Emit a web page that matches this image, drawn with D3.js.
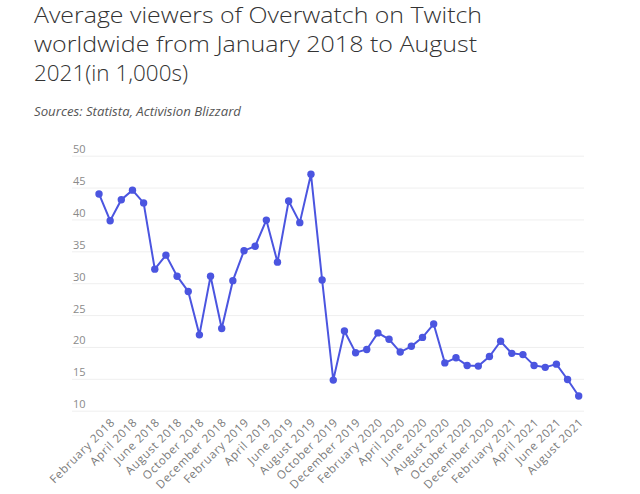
<!DOCTYPE html>
<html>
<head>
<meta charset="utf-8">
<script src="https://cdn.jsdelivr.net/npm/d3@7"></script>
<style>
  html, body { margin: 0; padding: 0; background: #fff; }
  svg { display: block; }
</style>
</head>
<body>
<svg id="chart" width="640" height="494"></svg>
<script>
const titleLines = [
  "Average viewers of Overwatch on Twitch",
  "worldwide from January 2018 to August",
  "2021(in 1,000s)"
];
const sourceText = "Sources: Statista, Activision Blizzard";

const months = [
  "January 2018","February 2018","March 2018","April 2018","May 2018","June 2018",
  "July 2018","August 2018","September 2018","October 2018","November 2018","December 2018",
  "January 2019","February 2019","March 2019","April 2019","May 2019","June 2019",
  "July 2019","August 2019","September 2019","October 2019","November 2019","December 2019",
  "January 2020","February 2020","March 2020","April 2020","May 2020","June 2020",
  "July 2020","August 2020","September 2020","October 2020","November 2020","December 2020",
  "January 2021","February 2021","March 2021","April 2021","May 2021","June 2021",
  "July 2021","August 2021"
];
const viewers = [
  44.0, 39.8, 43.1, 44.6, 42.6, 32.2, 34.4, 31.1, 28.7, 21.9, 31.1, 22.9,
  30.4, 35.1, 35.8, 39.9, 33.3, 42.9, 39.5, 47.1, 30.5, 14.8, 22.5, 19.1,
  19.6, 22.2, 21.2, 19.2, 20.1, 21.5, 23.6, 17.5, 18.3, 17.1, 17.0, 18.5,
  20.9, 19.0, 18.8, 17.1, 16.8, 17.3, 14.9, 12.3
];
const tickLabels = [
  "February 2018","April 2018","June 2018","August 2018","October 2018","December 2018",
  "February 2019","April 2019","June 2019","August 2019","October 2019","December 2019",
  "February 2020","April 2020","June 2020","August 2020","October 2020","December 2020",
  "February 2021","April 2021","June 2021","August 2021"
];
const yTicks = [10, 15, 20, 25, 30, 35, 40, 45, 50];

const svg = d3.select("#chart");
const font = "'Open Sans', 'Noto Sans', sans-serif";

// Title
const titleWidths = [448, 443, 154];
svg.append("g").selectAll("text").data(titleLines).join("text")
  .attr("x", 34)
  .attr("y", (d, i) => 22.5 + i * 29.3)
  .attr("textLength", (d, i) => titleWidths[i])
  .attr("lengthAdjust", "spacingAndGlyphs")
  .style("font-family", font)
  .style("font-size", "22px")
  .style("font-weight", 300)
  .style("fill", "#333")
  .text(d => d);

svg.append("text")
  .attr("x", 34).attr("y", 115.5)
  .attr("textLength", 207).attr("lengthAdjust", "spacingAndGlyphs")
  .style("font-family", font).style("font-size", "12.5px")
  .style("font-style", "italic").style("fill", "#555")
  .text(sourceText);

// Scales
const x = d3.scalePoint().domain(months).range([99, 578.7]);
const y = d3.scaleLinear().domain([10, 50]).range([410.7, 155.7]);

// Grid + y labels
const yAxis = d3.axisLeft(y).tickValues(yTicks).tickSize(0).tickFormat(d3.format("d"));
const gy = svg.append("g").call(yAxis);
gy.select(".domain").remove();
gy.selectAll(".tick line")
  .attr("x1", 72).attr("x2", 584)
  .attr("stroke", "#efefef").attr("stroke-width", 1);
gy.selectAll(".tick text")
  .attr("x", 73).attr("y", 0).attr("dy", "-3")
  .attr("text-anchor", "start")
  .style("font-family", font).style("font-size", "11px")
  .style("fill", "#8a8a8a");

// X axis labels
const xAxis = d3.axisBottom(x).tickValues(tickLabels).tickSize(0);
const gx = svg.append("g").attr("transform", "translate(0,412)").call(xAxis);
gx.select(".domain").remove();
gx.selectAll(".tick text")
  .attr("x", 0).attr("y", 0).attr("dy", 0)
  .attr("text-anchor", "end")
  .attr("transform", "translate(5,11) rotate(-45)")
  .style("font-family", font).style("font-size", "11.5px")
  .style("letter-spacing", "0.7px")
  .style("fill", "#7a7a7a");

// Line
const color = "#4b55e0";
const line = d3.line().x((d, i) => x(months[i])).y(d => y(d));
svg.append("path").datum(viewers)
  .attr("d", line)
  .attr("fill", "none").attr("stroke", color).attr("stroke-width", 2);

svg.append("g").selectAll("circle").data(viewers).join("circle")
  .attr("cx", (d, i) => x(months[i]))
  .attr("cy", d => y(d))
  .attr("r", 3.7)
  .attr("fill", color);
</script>
</body>
</html>
